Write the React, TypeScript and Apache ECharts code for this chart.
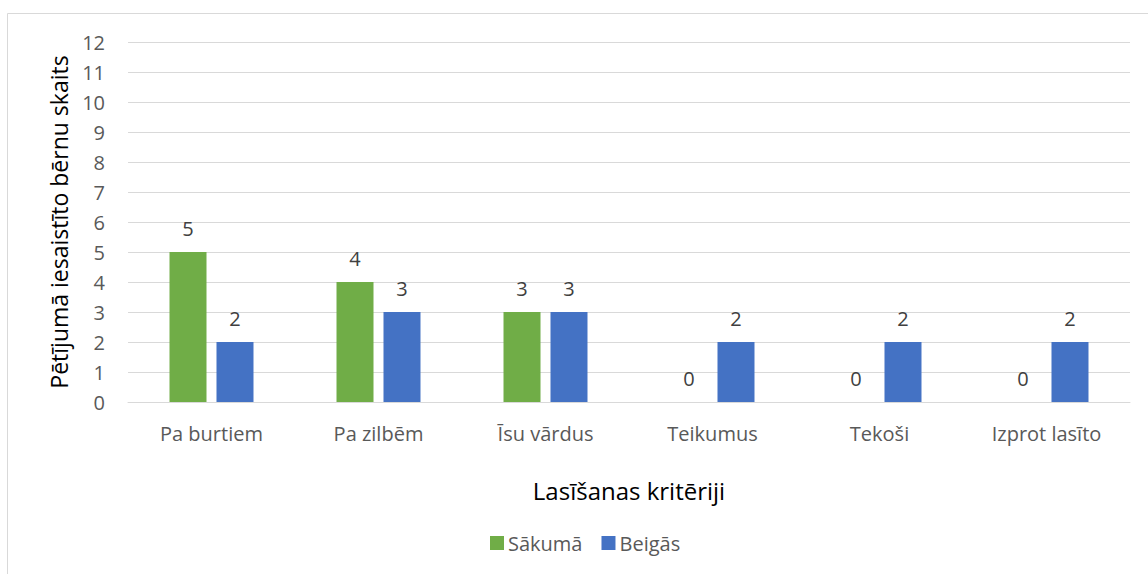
import React, { useEffect, useRef } from "react";
import * as echarts from "echarts";

const categories = ["Pa burtiem", "Pa zilbēm", "Īsu vārdus", "Teikumus", "Tekoši", "Izprot lasīto"];
const sakuma = [5, 4, 3, 0, 0, 0];
const beigas = [2, 3, 3, 2, 2, 2];
const seriesNames = ["Sākumā", "Beigās"];
const yAxisTitle = "Pētījumā iesaistīto bērnu skaits";
const xAxisTitle = "Lasīšanas kritēriji";

const FONT = "'Open Sans', 'Noto Sans', sans-serif";

export default function App() {
  const ref = useRef<HTMLDivElement>(null);
  useEffect(() => {
    if (!ref.current) return;
    const chart = echarts.init(ref.current, null, { renderer: "svg" });
    const label = {
      show: true,
      position: "top",
      distance: 14,
      color: "#404040",
      fontSize: 20,
      fontFamily: FONT,
    };
    chart.setOption({
      animation: false,
      backgroundColor: "#ffffff",
      textStyle: { fontFamily: FONT },
      graphic: [
        {
          type: "rect",
          shape: { x: 7.5, y: 13.5, width: 1160, height: 600 },
          style: { fill: "none", stroke: "#D9D9D9", lineWidth: 1 },
          silent: true,
        },
      ],
      grid: { left: 128, right: 18, top: 42, bottom: 172, containLabel: false },
      legend: {
        data: seriesNames,
        left: 490,
        top: 533,
        padding: 0,
        itemWidth: 14,
        itemHeight: 14,
        itemGap: 19,
        icon: "rect",
        textStyle: { color: "#595959", fontSize: 20, fontFamily: FONT, padding: [0, 0, 0, -1] },
      },
      xAxis: {
        type: "category",
        data: categories,
        name: xAxisTitle,
        nameLocation: "middle",
        nameGap: 76,
        nameTextStyle: { color: "#000000", fontSize: 24, fontFamily: FONT },
        axisLine: { show: true, lineStyle: { color: "#D9D9D9", width: 1 } },
        axisTick: { show: false },
        axisLabel: { color: "#595959", fontSize: 20, fontFamily: FONT, margin: 21 },
      },
      yAxis: {
        type: "value",
        min: 0,
        max: 12,
        interval: 1,
        name: yAxisTitle,
        nameLocation: "middle",
        nameGap: 58,
        nameRotate: 90,
        nameTextStyle: { color: "#000000", fontSize: 23, fontFamily: FONT },
        axisLine: { show: false },
        axisTick: { show: false },
        axisLabel: { color: "#595959", fontSize: 20, fontFamily: FONT, margin: 23 },
        splitLine: { lineStyle: { color: "#D9D9D9", width: 1 } },
      },
      series: [
        {
          name: seriesNames[0],
          type: "bar",
          data: sakuma,
          barWidth: 37,
          barGap: "27%",
          itemStyle: { color: "#70AD47" },
          label,
        },
        {
          name: seriesNames[1],
          type: "bar",
          data: beigas,
          barWidth: 37,
          barGap: "27%",
          itemStyle: { color: "#4472C4" },
          label,
        },
      ],
    });
    return () => chart.dispose();
  }, []);
  return (
    <div
      ref={ref}
      style={{ position: "fixed", left: 0, top: 0, width: 1148, height: 574 }}
    />
  );
}
